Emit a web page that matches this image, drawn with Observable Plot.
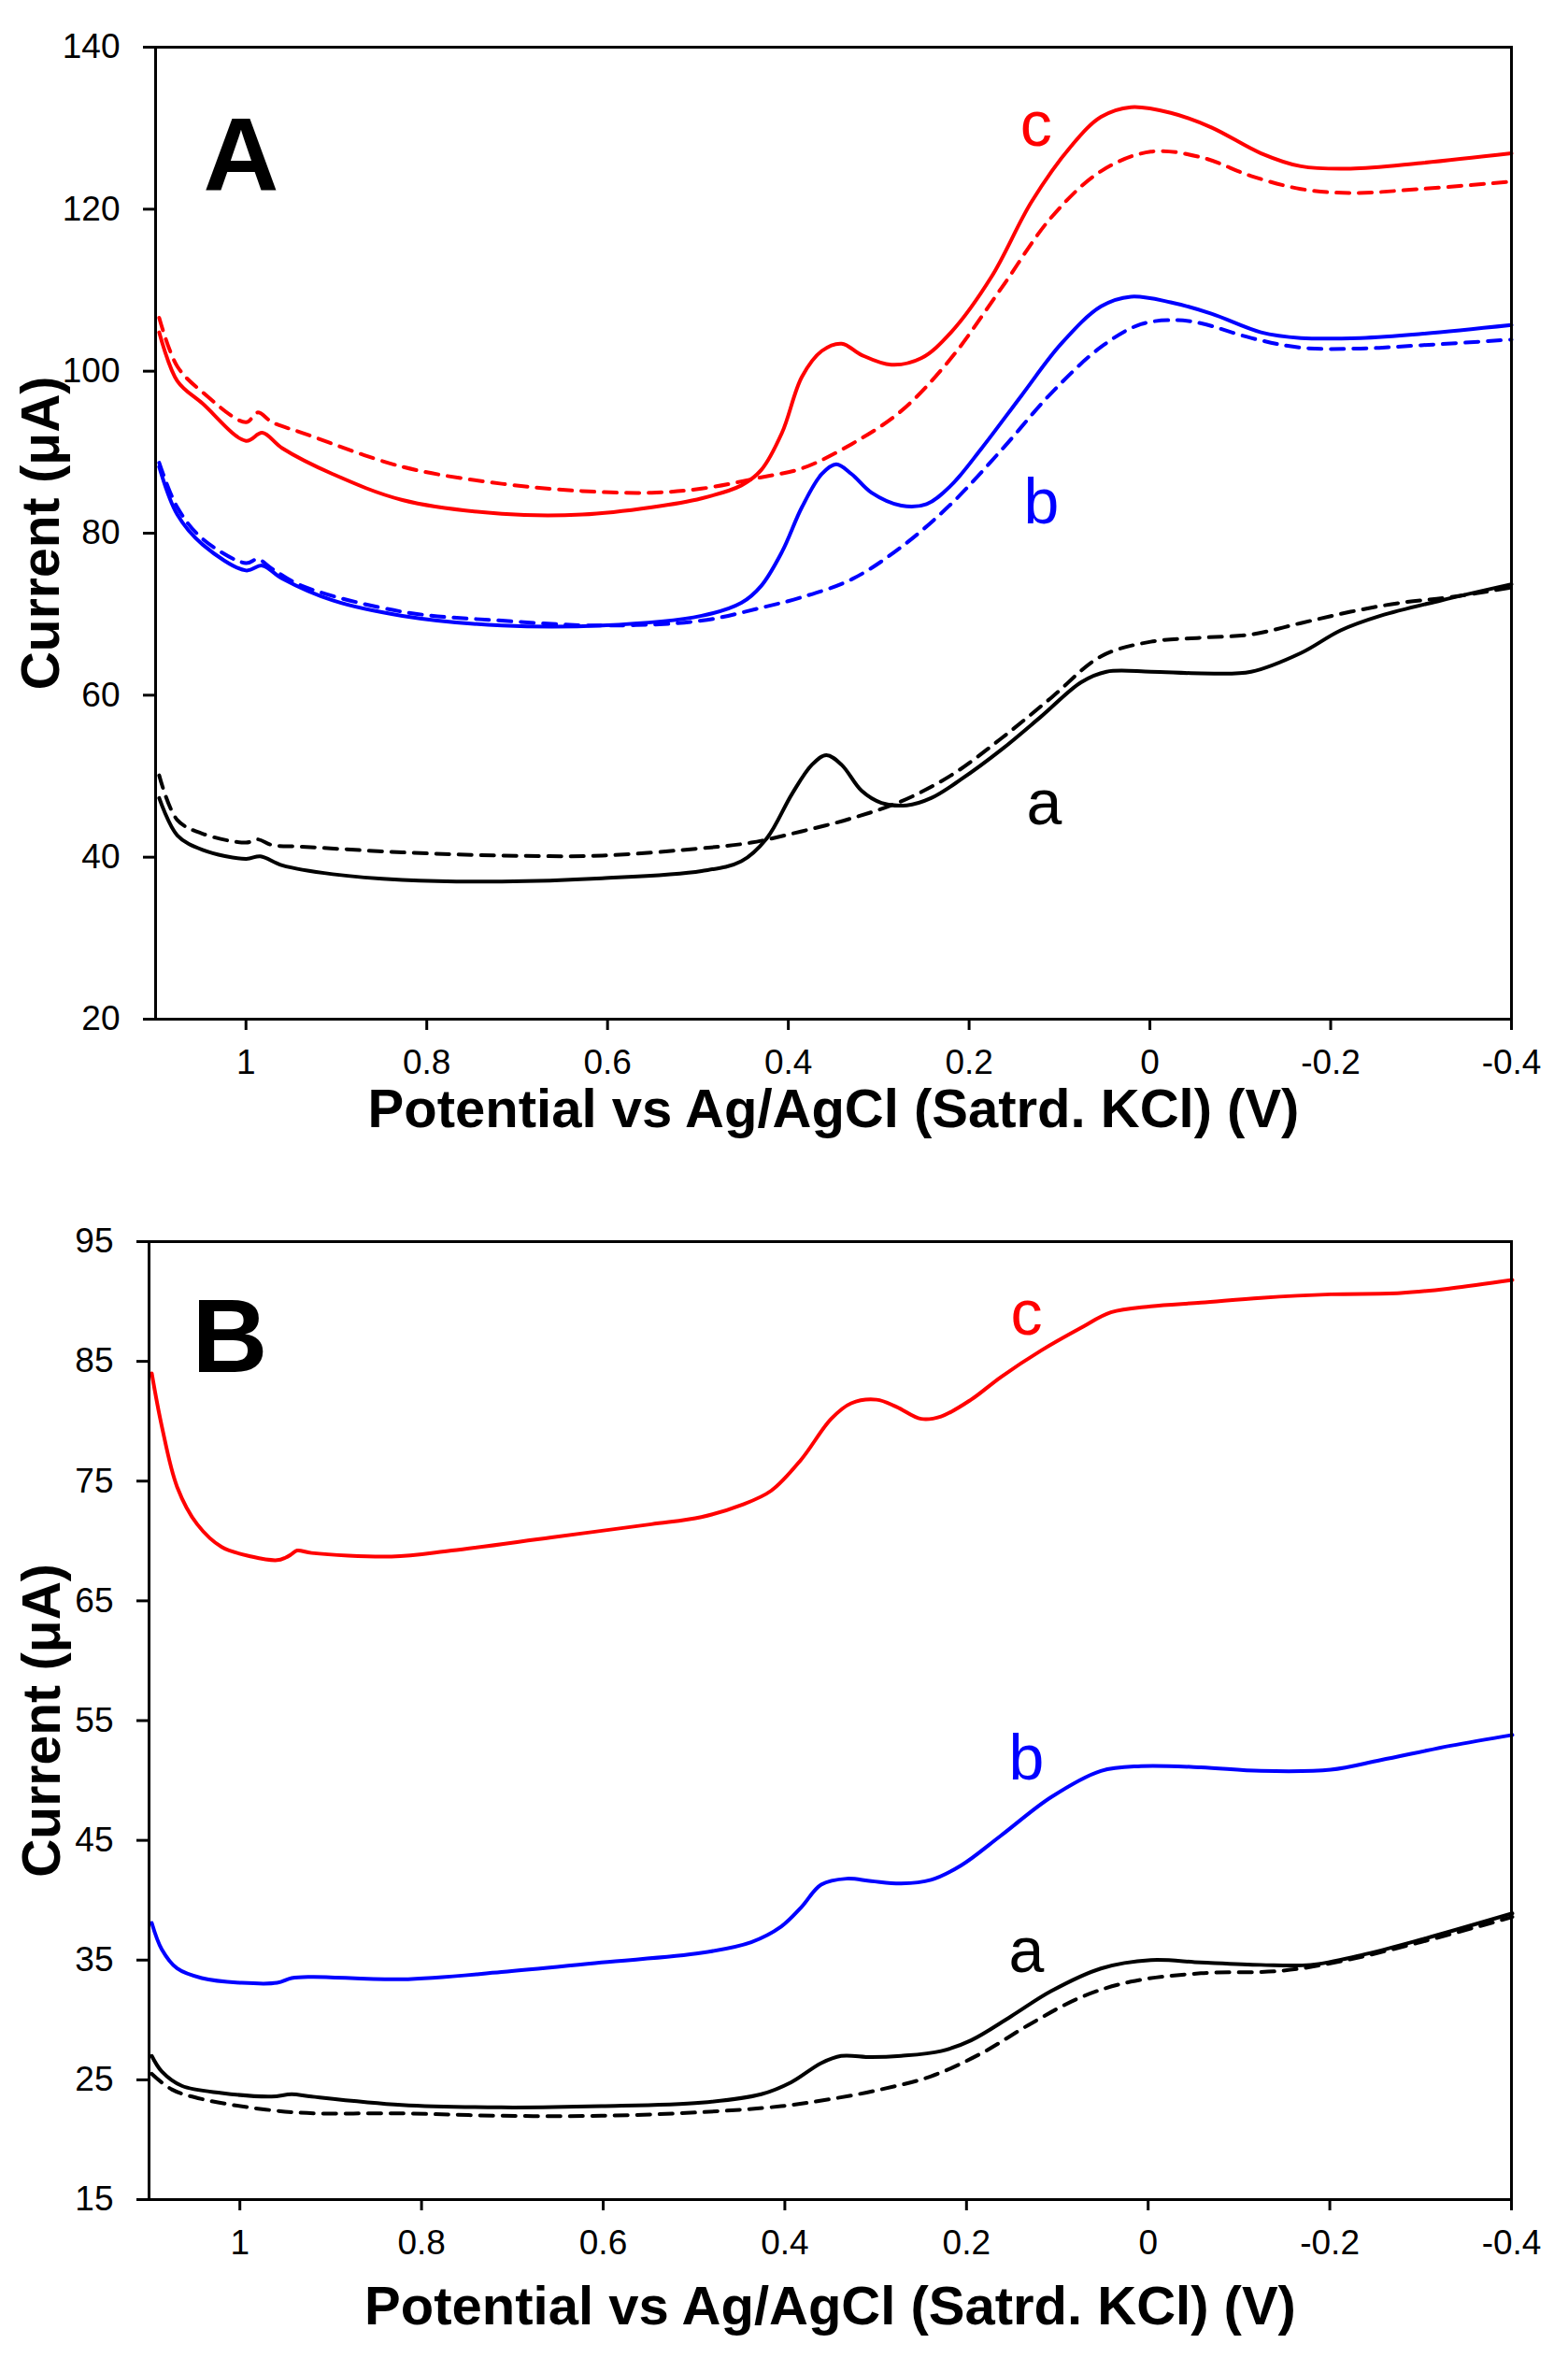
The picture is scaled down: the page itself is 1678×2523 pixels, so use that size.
<!DOCTYPE html>
<html><head><meta charset="utf-8">
<script src="https://cdn.jsdelivr.net/npm/d3@7"></script>
<script src="https://cdn.jsdelivr.net/npm/@observablehq/plot@0.6"></script>
<style>
body{margin:0;background:#fff;}
#wrap{width:1678px;}
svg{display:block;}
</style>
</head><body><div id="wrap"></div>
<script>
// ---------- Tick labels ----------
const xTicks = [1, 0.8, 0.6, 0.4, 0.2, 0, -0.2, -0.4];
const yTicksA = [20, 40, 60, 80, 100, 120, 140];
const yTicksB = [15, 25, 35, 45, 55, 65, 75, 85, 95];
const xTitle = "Potential vs Ag/AgCl (Satrd. KCl) (V)";
const yTitle = "Current (μA)";

// ---------- Panel A data: [potential (V), current (µA)] ----------
const A_a_solid = [[1.096,47.3],[1.076,42.7],[1.048,40.9],[1.000,39.8],[0.984,40.1],[0.960,39.0],[0.904,37.9],[0.827,37.2],[0.717,37.0],[0.606,37.4],[0.496,38.3],[0.452,39.5],[0.424,42.3],[0.396,47.8],[0.374,51.4],[0.358,52.6],[0.341,51.4],[0.319,48.2],[0.297,46.7],[0.269,46.4],[0.242,47.3],[0.209,49.6],[0.164,53.3],[0.120,57.4],[0.076,61.6],[0.048,62.9],[-0.001,62.9],[-0.057,62.7],[-0.112,62.9],[-0.167,65.2],[-0.211,68.0],[-0.255,69.8],[-0.322,71.7],[-0.400,73.7]];
const A_a_dash = [[1.096,50.1],[1.076,44.6],[1.048,42.9],[1.000,41.8],[0.987,42.2],[0.971,41.5],[0.938,41.3],[0.827,40.6],[0.717,40.2],[0.606,40.2],[0.496,41.1],[0.441,41.8],[0.385,43.2],[0.330,44.8],[0.275,46.9],[0.220,50.1],[0.164,54.7],[0.109,59.7],[0.054,64.8],[-0.001,66.6],[-0.057,67.1],[-0.112,67.5],[-0.167,68.9],[-0.222,70.3],[-0.277,71.4],[-0.333,72.1],[-0.400,73.3]];
const A_b_solid = [[1.096,88.2],[1.076,82.3],[1.048,78.6],[1.000,75.4],[0.982,76.0],[0.960,74.4],[0.904,71.7],[0.827,69.8],[0.717,68.6],[0.606,68.6],[0.496,69.8],[0.452,71.4],[0.430,73.5],[0.407,77.7],[0.385,83.2],[0.363,87.3],[0.347,88.5],[0.330,87.3],[0.308,85.0],[0.275,83.4],[0.247,83.6],[0.220,85.9],[0.186,90.5],[0.142,97.0],[0.098,103.4],[0.054,108.0],[0.021,109.2],[-0.023,108.5],[-0.068,107.1],[-0.123,104.8],[-0.167,104.1],[-0.233,104.1],[-0.300,104.6],[-0.400,105.7]];
const A_b_dash = [[1.096,88.7],[1.076,83.2],[1.048,79.3],[1.000,76.3],[0.987,76.8],[0.971,75.6],[0.938,73.5],[0.827,70.3],[0.717,69.2],[0.606,68.6],[0.496,69.2],[0.430,70.8],[0.385,72.1],[0.330,74.3],[0.275,78.3],[0.220,83.6],[0.164,90.3],[0.109,97.3],[0.054,103.0],[0.010,105.8],[-0.030,106.3],[-0.057,105.9],[-0.112,104.1],[-0.167,102.9],[-0.233,102.8],[-0.300,103.2],[-0.400,103.9]];
const A_c_solid = [[1.096,104.8],[1.076,98.8],[1.048,96.0],[1.000,91.4],[0.982,92.4],[0.960,90.5],[0.904,87.3],[0.827,84.1],[0.717,82.4],[0.628,82.3],[0.551,83.2],[0.496,84.3],[0.452,85.9],[0.430,87.8],[0.407,92.4],[0.385,99.3],[0.363,102.5],[0.341,103.4],[0.319,102.0],[0.286,100.8],[0.253,101.6],[0.220,104.8],[0.175,111.7],[0.131,120.9],[0.087,127.8],[0.054,131.4],[0.021,132.6],[-0.023,131.9],[-0.068,130.1],[-0.123,126.9],[-0.167,125.3],[-0.222,125.0],[-0.300,125.7],[-0.400,126.9]];
const A_c_dash = [[1.096,106.6],[1.076,100.6],[1.048,97.4],[1.000,93.7],[0.987,94.9],[0.971,93.7],[0.938,92.4],[0.827,88.2],[0.717,86.1],[0.628,85.2],[0.551,85.0],[0.496,85.5],[0.430,86.9],[0.385,88.0],[0.330,91.0],[0.275,95.1],[0.220,101.6],[0.164,110.3],[0.109,119.0],[0.054,124.7],[-0.001,127.1],[-0.057,126.4],[-0.112,124.1],[-0.167,122.5],[-0.222,122.0],[-0.300,122.5],[-0.400,123.4]];

// ---------- Panel B data ----------
const B_a_solid = [[1.097,27.0],[1.086,25.7],[1.064,24.5],[1.020,23.9],[0.965,23.6],[0.943,23.8],[0.921,23.6],[0.822,22.9],[0.712,22.7],[0.602,22.8],[0.492,23.1],[0.426,23.8],[0.393,24.8],[0.360,26.4],[0.338,27.0],[0.305,26.9],[0.272,27.0],[0.228,27.4],[0.195,28.3],[0.151,30.3],[0.107,32.4],[0.052,34.3],[-0.003,35.0],[-0.058,34.8],[-0.124,34.6],[-0.179,34.6],[-0.234,35.4],[-0.300,36.7],[-0.401,38.9]];
const B_a_dash = [[1.097,25.5],[1.075,24.2],[1.042,23.4],[0.943,22.3],[0.822,22.2],[0.712,22.0],[0.602,22.0],[0.492,22.3],[0.404,22.8],[0.349,23.4],[0.294,24.2],[0.239,25.3],[0.184,27.2],[0.129,29.7],[0.074,31.9],[0.019,33.2],[-0.058,33.9],[-0.146,34.1],[-0.212,34.9],[-0.300,36.5],[-0.401,38.6]];
const B_b_solid = [[1.097,38.1],[1.086,35.9],[1.069,34.3],[1.042,33.5],[0.998,33.1],[0.959,33.1],[0.943,33.5],[0.921,33.6],[0.822,33.4],[0.712,34.0],[0.602,34.8],[0.492,35.6],[0.437,36.5],[0.404,37.8],[0.382,39.4],[0.360,41.3],[0.332,41.8],[0.305,41.6],[0.272,41.4],[0.239,41.7],[0.206,42.9],[0.162,45.4],[0.107,48.6],[0.052,50.8],[0.008,51.2],[-0.058,51.1],[-0.124,50.8],[-0.201,50.9],[-0.256,51.7],[-0.333,52.9],[-0.401,53.8]];
const B_c_solid = [[1.097,84.0],[1.086,79.6],[1.069,74.5],[1.047,71.4],[1.020,69.5],[0.987,68.7],[0.959,68.4],[0.950,68.6],[0.943,68.9],[0.937,69.2],[0.921,69.0],[0.833,68.7],[0.767,69.2],[0.657,70.3],[0.547,71.4],[0.492,72.0],[0.448,73.0],[0.415,74.2],[0.382,76.8],[0.349,80.2],[0.327,81.5],[0.299,81.8],[0.277,81.2],[0.250,80.2],[0.228,80.4],[0.195,81.8],[0.162,83.7],[0.118,85.9],[0.074,87.8],[0.041,89.1],[-0.003,89.6],[-0.058,89.9],[-0.124,90.3],[-0.201,90.6],[-0.278,90.7],[-0.333,91.1],[-0.401,91.8]];

// ---------- Curve labels ----------
const labelTextA = ["c", "b", "a"];
const labelXA = [0.126, 0.120, 0.117];
const labelYA = [127.8, 81.2, 44.1];
const labelTextB = ["c", "b", "a"];
const labelXB = [0.134, 0.134, 0.134];
const labelYB = [87.2, 50.1, 34.0];
const labelColors = ["#ff0000", "#0000ff", "#000000"];

const FONT = "'Liberation Sans', Arial, Helvetica, sans-serif";
const LW = 4;
const DASH = "14,10";

function curve(data, color, dashed) {
  return Plot.line(data, {
    x: d => d[0], y: d => d[1], stroke: color, strokeWidth: LW,
    strokeDasharray: dashed ? DASH : null, curve: "catmull-rom"
  });
}

function labels(texts, xs, ys) {
  return texts.map((t, i) => Plot.text([t], {
    x: () => xs[i], y: () => ys[i], text: d => d, fill: labelColors[i],
    fontSize: 68, lineAnchor: "bottom", textAnchor: "middle"
  }));
}

function panel({height, marginLeft, marginTop, marginBottom, yDomain, yTicks, series, letter, letterDx, letterDy, titleDy, yTitleDx, lab}) {
  return Plot.plot({
    width: 1678, height, marginLeft, marginRight: 61, marginTop, marginBottom,
    style: {fontFamily: FONT, background: "white", color: "black"},
    x: {domain: [1.1, -0.4]},
    y: {domain: yDomain},
    marks: [
      ...series,
      Plot.frame({stroke: "black", strokeWidth: 3}),
      Plot.axisX({ticks: xTicks, tickFormat: d => String(d), tickSize: 12, tickPadding: 20,
        fontSize: 37, strokeWidth: 3, label: null}),
      Plot.axisY({ticks: yTicks, tickFormat: d => String(d), tickSize: 13, tickPadding: 25,
        fontSize: 37, strokeWidth: 3, label: null}),
      Plot.text([xTitle], {text: d => d, frameAnchor: "bottom", dy: titleDy, lineAnchor: "bottom",
        textAnchor: "middle", fontSize: 58, fontWeight: "bold"}),
      Plot.text([yTitle], {text: d => d, frameAnchor: "left", rotate: -90, dx: yTitleDx,
        lineAnchor: "bottom", textAnchor: "middle", fontSize: 57, fontWeight: "bold"}),
      Plot.text([letter], {text: d => d, frameAnchor: "top-left", dx: letterDx, dy: letterDy,
        lineAnchor: "bottom", textAnchor: "start", fontSize: 112, fontWeight: "bold"}),
      ...lab
    ]
  });
}

const wrap = document.getElementById("wrap");
wrap.appendChild(panel({
  height: 1250, marginLeft: 166, marginTop: 50, marginBottom: 160,
  yDomain: [20, 140], yTicks: yTicksA,
  series: [
    curve(A_a_dash, "#000000", true), curve(A_a_solid, "#000000", false),
    curve(A_b_dash, "#0000ff", true), curve(A_b_solid, "#0000ff", false),
    curve(A_c_dash, "#ff0000", true), curve(A_c_solid, "#ff0000", false)
  ],
  letter: "A", letterDx: 51, letterDy: 153, titleDy: 115, yTitleDx: -104,
  lab: labels(labelTextA, labelXA, labelYA)
}));
wrap.appendChild(panel({
  height: 1273, marginLeft: 159, marginTop: 78, marginBottom: 170,
  yDomain: [15, 95], yTicks: yTicksB,
  series: [
    curve(B_a_dash, "#000000", true), curve(B_a_solid, "#000000", false),
    curve(B_b_solid, "#0000ff", false), curve(B_c_solid, "#ff0000", false)
  ],
  letter: "B", letterDx: 46, letterDy: 139, titleDy: 133, yTitleDx: -96,
  lab: labels(labelTextB, labelXB, labelYB)
}));
</script></body></html>
